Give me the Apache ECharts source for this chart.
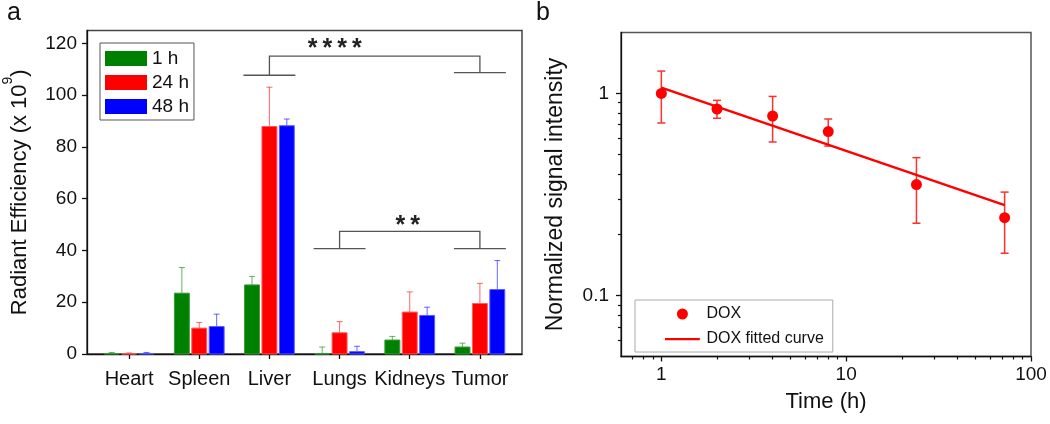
<!DOCTYPE html>
<html><head><meta charset="utf-8">
<script src="https://cdn.jsdelivr.net/npm/echarts@6/dist/echarts.min.js"></script>
<style>html,body{margin:0;padding:0;background:#fff}#c{width:1050px;height:424px}</style>
</head><body><div id="c"></div>
<script>
// ---------- Panel a data ----------
const organs = ['Heart', 'Spleen', 'Liver', 'Lungs', 'Kidneys', 'Tumor'];
const timeLabels = ['1 h', '24 h', '48 h'];
const eff1h = [0.2, 23.5, 26.7, 0.1, 5.4, 2.7];
const eff1hErrTop = [0.6, 33.4, 30.0, 2.7, 6.8, 4.2];
const eff24h = [0.1, 10.0, 87.9, 8.2, 16.2, 19.5];
const eff24hErrTop = [0.4, 12.2, 103.1, 12.5, 24.0, 27.3];
const eff48h = [0.2, 10.6, 88.2, 0.9, 14.9, 24.9];
const eff48hErrTop = [0.6, 15.4, 90.8, 3.0, 18.1, 36.1];
const effTicks = [0, 20, 40, 60, 80, 100, 120];
const barColors = ['#008000', '#ff0000', '#0000ff'];

// significance brackets
const sigLeftCat = [2, 3];
const sigRightCat = [5, 5];
const sigLeftY = [107.7, 40.7];
const sigRightY = [108.7, 40.7];
const sigTopY = [115.1, 47.4];
const sigText = ['*\u2009*\u2009*\u2009*', '*\u2009*'];
const sigTextX = [2.93, 3.97];
const sigTextY = [118.0, 49.6];

// ---------- Panel b data ----------
const timeH = [1, 2, 4, 8, 24, 72];
const doxSignal = [1.0, 0.837, 0.773, 0.647, 0.354, 0.243];
const doxLow = [0.714, 0.753, 0.575, 0.549, 0.228, 0.162];
const doxHigh = [1.289, 0.924, 0.966, 0.747, 0.481, 0.325];
const fitTime = [1, 72];
const fitSignal = [1.067, 0.280];
const timeTicks = [1, 10, 100];
const timeMinorTicks = [0.7, 0.8, 0.9, 2, 3, 4, 5, 6, 7, 8, 9, 20, 30, 40, 50, 60, 70, 80, 90];
const signalTicks = [0.1, 1];
const signalMinorTicks = [0.06, 0.07, 0.08, 0.09, 0.2, 0.3, 0.4, 0.5, 0.6, 0.7, 0.8, 0.9];

const FONT = "'Liberation Sans', Arial, sans-serif";
const chart = echarts.init(document.getElementById('c'), null, {renderer: 'canvas'});

const barVals = [eff1h, eff24h, eff48h];
const barErrs = [eff1hErrTop, eff24hErrTop, eff48hErrTop];
const errColors = ['rgba(0,128,0,0.6)', 'rgba(255,0,0,0.6)', 'rgba(0,0,255,0.6)'];
const edgeColors = ['#3c9a3c', '#ff5a5a', '#5a5aff'];

function barSeries(k) {
  return {
    type: 'custom', name: timeLabels[k], xAxisIndex: 0, yAxisIndex: 0,
    itemStyle: {color: barColors[k]},
    data: organs.map((o, i) => [i, barVals[k][i], barErrs[k][i]]),
    encode: {x: 0, y: [1, 2]},
    renderItem: function (params, api) {
      const i = api.value(0), v = api.value(1), e = api.value(2);
      const off = (k - 1) * 0.248, bw = 0.213;
      const p0 = api.coord([i + off, 0]);
      const p1 = api.coord([i + off, v]);
      const pe = api.coord([i + off, e]);
      const w = api.size([bw, 0])[0];
      const cap = 3;
      return {type: 'group', children: [
        {type: 'line', shape: {x1: p1[0], y1: p1[1], x2: pe[0], y2: pe[1]}, style: {stroke: errColors[k], lineWidth: 1}},
        {type: 'line', shape: {x1: pe[0] - cap, y1: pe[1], x2: pe[0] + cap, y2: pe[1]}, style: {stroke: errColors[k], lineWidth: 1}},
        {type: 'rect', shape: {x: p1[0] - w / 2, y: p1[1], width: w, height: p0[1] - p1[1]},
          style: {fill: barColors[k], stroke: edgeColors[k], lineWidth: 1}}
      ]};
    }
  };
}

const sigSeries = {
  type: 'custom', xAxisIndex: 0, yAxisIndex: 0, silent: true,
  data: sigText.map((t, i) => [sigLeftCat[i], sigRightCat[i], sigLeftY[i], sigRightY[i], sigTopY[i], sigTextX[i], sigTextY[i]]),
  encode: {x: [0, 1], y: [2, 3, 4]},
  renderItem: function (params, api) {
    const lc = api.value(0), rc = api.value(1), ly = api.value(2), ry = api.value(3), ty = api.value(4);
    const tx = api.value(5), tyy = api.value(6);
    const hw = 0.37;
    const P = (x, y) => api.coord([x, y]);
    const st = {stroke: '#555', lineWidth: 1.3, fill: null};
    const a = P(lc - hw, ly), b = P(lc + hw, ly), c = P(lc, ly), d = P(lc, ty), e = P(rc, ty), f = P(rc, ry), g = P(rc - hw, ry), h = P(rc + hw, ry);
    const tp = P(tx, tyy);
    return {type: 'group', children: [
      {type: 'line', shape: {x1: a[0], y1: a[1], x2: b[0], y2: b[1]}, style: st},
      {type: 'polyline', shape: {points: [c, d, e, f]}, style: st},
      {type: 'line', shape: {x1: g[0], y1: g[1], x2: h[0], y2: h[1]}, style: st},
      {type: 'text', x: tp[0], y: tp[1], style: {text: sigText[params.dataIndex], fill: '#222', font: 'bold 25px ' + FONT, align: 'center', verticalAlign: 'middle'}}
    ]};
  }
};

const doxErrSeries = {
  type: 'custom', xAxisIndex: 1, yAxisIndex: 1, silent: true,
  data: timeH.map((t, i) => [t, doxLow[i], doxHigh[i]]),
  encode: {x: 0, y: [1, 2]},
  renderItem: function (params, api) {
    const lo = api.coord([api.value(0), api.value(1)]);
    const hi = api.coord([api.value(0), api.value(2)]);
    const cap = 4;
    const st = {stroke: '#ff3030', lineWidth: 1.5};
    return {type: 'group', children: [
      {type: 'line', shape: {x1: lo[0], y1: lo[1], x2: hi[0], y2: hi[1]}, style: st},
      {type: 'line', shape: {x1: hi[0] - cap, y1: hi[1], x2: hi[0] + cap, y2: hi[1]}, style: st},
      {type: 'line', shape: {x1: lo[0] - cap, y1: lo[1], x2: lo[0] + cap, y2: lo[1]}, style: st}
    ]};
  }
};

const axisLineStyle = {show: true, onZero: false, lineStyle: {color: '#111', width: 1.3}};
const tickLabelStyle = {color: '#111', fontSize: 19, fontFamily: FONT};

const option = {
  animation: false,
  backgroundColor: '#fff',
  textStyle: {fontFamily: FONT},
  graphic: [
    {type: 'text', left: 7, top: 1, style: {text: 'a', font: '25px ' + FONT, fill: '#111'}},
    {type: 'text', left: 536, top: 1, style: {text: 'b', font: '25px ' + FONT, fill: '#111'}}
  ],
  legend: [
    {
      data: timeLabels, orient: 'vertical', left: 100, top: 43, icon: 'rect',
      itemWidth: 42, itemHeight: 15, itemGap: 5, padding: [6, 5, 4, 5],
      borderColor: '#555', borderWidth: 1, selectedMode: false,
      textStyle: {fontSize: 19, lineHeight: 16, color: '#111', fontFamily: FONT}
    },
    {
      data: [
        {name: 'DOX', icon: 'circle'},
        {name: 'DOX fitted curve', icon: 'path://M0,0M0,5H38V7.4H0ZM38,12'}
      ],
      orient: 'vertical', left: 635, top: 300,
      itemWidth: 38, itemHeight: 11, itemGap: 9, padding: [6, 9, 5, 30],
      borderColor: '#aaa', borderWidth: 1, selectedMode: false,
      textStyle: {fontSize: 16, color: '#111', fontFamily: FONT}
    }
  ],
  grid: [
    {left: 86, right: 528, top: 30.5, bottom: 70, show: true, borderColor: '#444', borderWidth: 1.5, backgroundColor: 'transparent'},
    {left: 621, right: 19, top: 32.5, bottom: 67.5, show: true, borderColor: '#555', borderWidth: 1.5, backgroundColor: 'transparent'}
  ],
  xAxis: [
    {
      gridIndex: 0, type: 'value', min: -0.6, max: 5.6,
      axisLine: axisLineStyle, splitLine: {show: false},
      axisTick: {show: true, customValues: organs.map((o, i) => i), length: 5, lineStyle: {color: '#111', width: 1.3}},
      axisLabel: {customValues: organs.map((o, i) => i), formatter: v => organs[Math.round(v)], margin: 15, color: '#111', fontSize: 20, fontFamily: FONT}
    },
    {
      gridIndex: 1, type: 'log', logBase: 10, min: 0.605, max: 100, position: 'bottom',
      name: 'Time (h)', nameLocation: 'middle', nameGap: 34,
      nameTextStyle: {fontSize: 22, color: '#111', fontFamily: FONT},
      axisLine: axisLineStyle, splitLine: {show: false}, minorTick: {show: false},
      axisTick: {show: true, customValues: timeTicks, length: 5, lineStyle: {color: '#111', width: 1.3}},
      axisLabel: {customValues: timeTicks, formatter: v => String(v), margin: 9, ...tickLabelStyle}
    },
    {
      gridIndex: 1, type: 'log', logBase: 10, min: 0.605, max: 100, position: 'bottom', offset: 0,
      axisLine: {show: false, onZero: false}, splitLine: {show: false}, axisLabel: {show: false},
      axisTick: {show: true, customValues: timeMinorTicks, length: 3, lineStyle: {color: '#111', width: 1.2}}
    }
  ],
  yAxis: [
    {
      gridIndex: 0, type: 'value', min: 0, max: 125,
      name: '{m|Radiant Efficiency (x 10}{s|9}{m|)}', nameLocation: 'middle', nameGap: 56, nameRotate: 90,
      nameTextStyle: {rich: {
        m: {fontSize: 22, color: '#111', fontFamily: FONT, lineHeight: 30, verticalAlign: 'bottom'},
        s: {fontSize: 14, color: '#111', fontFamily: FONT, lineHeight: 30, verticalAlign: 'top'}
      }},
      axisLine: axisLineStyle, splitLine: {show: false},
      axisTick: {show: true, customValues: effTicks, length: 5, lineStyle: {color: '#111', width: 1.3}},
      axisLabel: {customValues: effTicks, margin: 10, ...tickLabelStyle}
    },
    {
      gridIndex: 1, type: 'log', logBase: 10, min: 0.05, max: 2, position: 'left',
      name: 'Normalized signal intensity', nameLocation: 'middle', nameGap: 54, nameRotate: 90,
      nameTextStyle: {fontSize: 23, color: '#111', fontFamily: FONT},
      axisLine: axisLineStyle, splitLine: {show: false}, minorTick: {show: false},
      axisTick: {show: true, customValues: signalTicks, length: 5, lineStyle: {color: '#111', width: 1.3}},
      axisLabel: {customValues: signalTicks, formatter: v => String(v), margin: 12, ...tickLabelStyle}
    },
    {
      gridIndex: 1, type: 'log', logBase: 10, min: 0.05, max: 2, position: 'left', offset: 0,
      axisLine: {show: false, onZero: false}, splitLine: {show: false}, axisLabel: {show: false},
      axisTick: {show: true, customValues: signalMinorTicks, length: 3, lineStyle: {color: '#111', width: 1.2}}
    }
  ],
  series: [
    barSeries(0), barSeries(1), barSeries(2), sigSeries,
    doxErrSeries,
    {
      type: 'line', name: 'DOX fitted curve', xAxisIndex: 1, yAxisIndex: 1,
      data: fitTime.map((t, i) => [t, fitSignal[i]]), symbol: 'none',
      lineStyle: {color: '#ff0000', width: 2.5}, itemStyle: {color: '#ff0000'}, z: 3
    },
    {
      type: 'scatter', name: 'DOX', xAxisIndex: 1, yAxisIndex: 1,
      data: timeH.map((t, i) => [t, doxSignal[i]]), symbol: 'circle', symbolSize: 11,
      itemStyle: {color: '#ff0000', opacity: 1}, z: 4
    }
  ]
};
chart.setOption(option);
</script>
</body></html>
